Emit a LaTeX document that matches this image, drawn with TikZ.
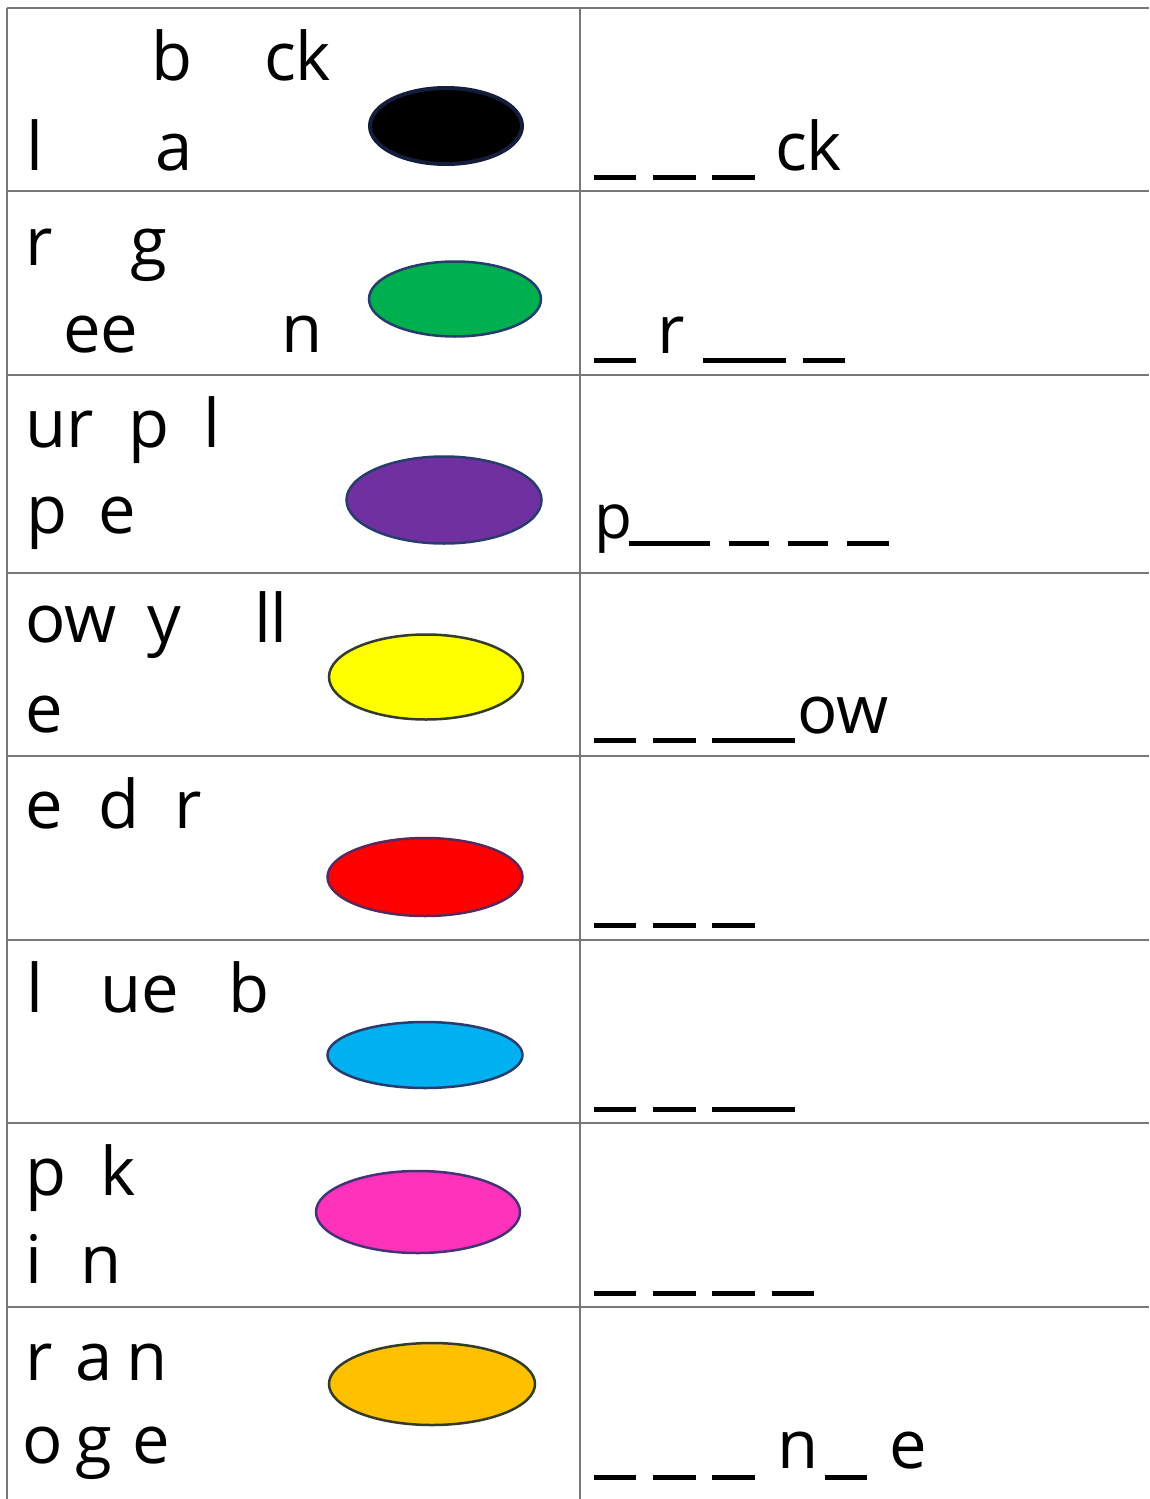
\documentclass[tikz,border=0pt]{standalone}
\usepackage{fontspec}
\setmainfont{Open Sans}
\usetikzlibrary{shapes.geometric}
\definecolor{gridc}{RGB}{120,120,120}
\definecolor{cgreen}{RGB}{0,176,80}
\definecolor{cpurple}{RGB}{112,48,160}
\definecolor{cyellow}{RGB}{255,255,0}
\definecolor{cred}{RGB}{255,0,0}
\definecolor{cblue}{RGB}{0,176,240}
\definecolor{cpink}{RGB}{255,51,187}
\definecolor{corange}{RGB}{255,192,0}
\definecolor{edgeblue}{RGB}{40,60,110}
\definecolor{edgedark}{RGB}{50,60,40}
\definecolor{edgeblack}{RGB}{20,30,60}
\definecolor{edgered}{RGB}{90,40,90}
\definecolor{edgepink}{RGB}{70,50,120}
\tikzset{
  lt/.style={anchor=base west, inner sep=0pt, outer sep=0pt, font=\fontsize{67}{67}\selectfont},
  gridline/.style={draw=gridc, line width=2.2pt},
  blank/.style={line width=5pt, black},
  blob/.style={ellipse, inner sep=0pt, outer sep=0pt, line width=2.5pt}
}
\begin{document}
\begin{tikzpicture}[x=1pt,y=-1pt]
\useasboundingbox (0,0) rectangle (1149,1499);
\fill[white] (0,0) rectangle (1149,1499);
% grid
\foreach \yy in {8,191,375,573,756,940,1123,1307}
  \draw[gridline] (7,\yy) -- (1149,\yy);
\draw[gridline] (7,8) -- (7,1499);
\draw[gridline] (580,8) -- (580,1499);

% ellipses
\node[blob, fill=black, draw=edgeblack, line width=4pt, minimum width=152pt, minimum height=76pt] (e1) at (446,126) {};
\node[blob, fill=cgreen, draw=edgeblue, minimum width=172pt, minimum height=75pt] (e2) at (455,299) {};
\node[blob, fill=cpurple, draw=edgeblue, minimum width=195pt, minimum height=87pt] (e3) at (444,500) {};
\node[blob, fill=cyellow, draw=edgedark, minimum width=194pt, minimum height=85pt] (e4) at (426,677) {};
\node[blob, fill=cred, draw=edgered, minimum width=195pt, minimum height=78pt] (e5) at (425,877) {};
\node[blob, fill=cblue, draw=edgeblue, minimum width=195pt, minimum height=66pt] (e6) at (425,1055) {};
\node[blob, fill=cpink, draw=edgepink, minimum width=204pt, minimum height=82pt] (e7) at (418,1212) {};
\node[blob, fill=corange, draw=edgedark, minimum width=206pt, minimum height=82pt] (e8) at (432,1384) {};

% row 1
\node[lt] (a1) at (151,80) {b};
\node[lt] (a2) at (264,80) {ck};
\node[lt] (a3) at (27,170) {l};
\node[lt] (a4) at (155,170) {a};
% row 2
\node[lt] (b1) at (25,265) {r};
\node[lt] (b2) at (130,265) {g};
\node[lt] (b3) at (63,352) {ee};
\node[lt] (b4) at (281,352) {n};
% row 3
\node[lt] (c1) at (25,447) {ur};
\node[lt] (c2) at (128,447) {p};
\node[lt] (c3) at (203,447) {l};
\node[lt] (c4) at (27,533) {p};
\node[lt] (c5) at (98,533) {e};
% row 4
\node[lt] (d1) at (25,642) {ow};
\node[lt] (d2) at (147,642) {y};
\node[lt] (d3) at (254,642) {ll};
\node[lt] (d4) at (25,732) {e};
% row 5
\node[lt] (f1) at (25,828) {e};
\node[lt] (f2) at (98,828) {d};
\node[lt] (f3) at (174,828) {r};
% row 6
\node[lt] (g1) at (27,1012) {l};
\node[lt] (g2) at (100,1012) {ue};
\node[lt] (g3) at (228,1012) {b};
% row 7
\node[lt] (h1) at (25,1195) {p};
\node[lt] (h2) at (100,1195) {k};
\node[lt] (h3) at (25,1283) {i};
\node[lt] (h4) at (80,1283) {n};
% row 8
\node[lt] (k1) at (25,1380) {r};
\node[lt] (k2) at (75,1380) {a};
\node[lt] (k3) at (126,1380) {n};
\node[lt] (k4) at (23,1463) {o};
\node[lt] (k5) at (75,1463) {g};
\node[lt] (k6) at (132,1463) {e};

% right column
% row 1
\draw[blank] (594,177) -- (636,177) (653,177) -- (696,177) (712,177) -- (755,177);
\node[lt] (r1) at (775,170) {ck};
% row 2
\draw[blank] (594,360) -- (636,360) (703,360) -- (786,360) (803,360) -- (845,360);
\node[lt] (r2) at (657,353) {r};
% row 3
\node[lt, font=\fontsize{62}{62}\selectfont] (r3) at (594,538) {p};
\draw[blank] (629,543) -- (710,543) (729,543) -- (769,543) (788,543) -- (828,543) (847,543) -- (889,543);
% row 4
\draw[blank] (594,740) -- (636,740) (653,740) -- (696,740) (712,740) -- (795,740);
\node[lt] (r4) at (797,733) {ow};
% row 5
\draw[blank] (594,925) -- (636,925) (653,925) -- (696,925) (712,925) -- (755,925);
% row 6
\draw[blank] (594,1109) -- (636,1109) (653,1109) -- (696,1109) (712,1109) -- (795,1109);
% row 7
\draw[blank] (594,1293) -- (636,1293) (653,1293) -- (696,1293) (712,1293) -- (755,1293) (772,1293) -- (814,1293);
% row 8
\draw[blank] (594,1477) -- (636,1477) (653,1477) -- (696,1477) (712,1477) -- (755,1477) (825,1477) -- (867,1477);
\node[lt] (r5) at (777,1468) {n};
\node[lt] (r6) at (889,1468) {e};
\end{tikzpicture}
\end{document}
